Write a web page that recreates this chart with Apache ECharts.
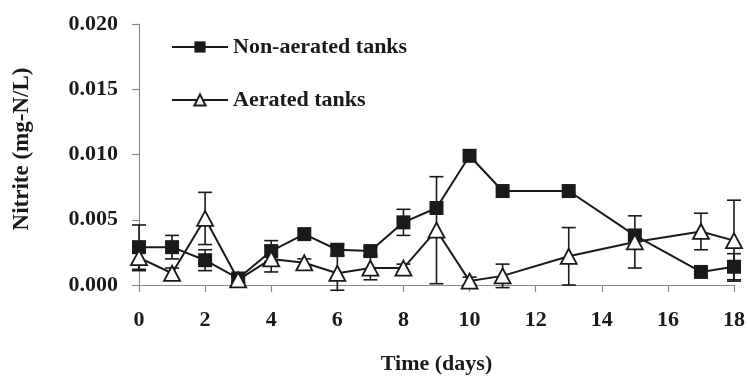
<!DOCTYPE html>
<html>
<head>
<meta charset="utf-8">
<script src="https://cdn.jsdelivr.net/npm/echarts@6/dist/echarts.min.js"></script>
<style>
  html, body { margin: 0; padding: 0; background: #ffffff; }
  #chart { width: 748px; height: 380px; }
</style>
</head>
<body>
<div id="chart"></div>
<script>
// Sampling days
const days = [0, 1, 2, 3, 4, 5, 6, 7, 8, 9, 10, 11, 13, 15, 17, 18];

// Nitrite (mg-N/L), mean and error (±)
const nonAerated    = [0.0029, 0.0029, 0.0019, 0.0005, 0.0026, 0.0039, 0.0027, 0.0026, 0.0048, 0.0059, 0.0099, 0.0072, 0.0072, 0.0038, 0.0010, 0.0014];
const nonAeratedErr = [0.0017, 0.0009, 0.0008, 0.0003, 0.0008, 0.0000, 0.0004, 0.0003, 0.0010, 0.0000, 0.0000, 0.0000, 0.0000, 0.0000, 0.0000, 0.0010];
const aerated       = [0.0021, 0.0009, 0.0051, 0.0004, 0.0020, 0.0017, 0.0009, 0.0013, 0.0013, 0.0042, 0.0003, 0.0007, 0.0022, 0.0033, 0.0041, 0.0034];
const aeratedErr    = [0.0010, 0.0004, 0.0020, 0.0002, 0.0010, 0.0003, 0.0013, 0.0009, 0.0003, 0.0041, 0.0003, 0.0009, 0.0022, 0.0020, 0.0014, 0.0031];

// Axis ticks
const xTicks = [0, 2, 4, 6, 8, 10, 12, 14, 16, 18];

const FONT = '"Liberation Serif", "Times New Roman", serif';
const INK = '#1a1a1a';
const AXIS = '#8a8a8a';
const FS = 22;

function pairs(xs, ys) { return xs.map((x, i) => [x, ys[i]]); }
function errRows(xs, ys, es) { return xs.map((x, i) => [x, ys[i] - es[i], ys[i] + es[i]]); }

// Vertical error bar with caps, placed through the axis scales
function errorBar(params, api) {
  const x = api.value(0);
  const lo = api.coord([x, api.value(1)]);
  const hi = api.coord([x, api.value(2)]);
  if (Math.abs(lo[1] - hi[1]) < 0.5) return null;
  const w = 7;
  const style = { stroke: INK, lineWidth: 1.6 };
  return {
    type: 'group',
    children: [
      { type: 'line', shape: { x1: lo[0], y1: lo[1], x2: hi[0], y2: hi[1] }, style },
      { type: 'line', shape: { x1: lo[0] - w, y1: lo[1], x2: lo[0] + w, y2: lo[1] }, style },
      { type: 'line', shape: { x1: hi[0] - w, y1: hi[1], x2: hi[0] + w, y2: hi[1] }, style }
    ]
  };
}

const chart = echarts.init(document.getElementById('chart'), null, { renderer: 'canvas' });

chart.setOption({
  animation: false,
  backgroundColor: '#ffffff',
  grid: { left: 139, right: 13, top: 24, bottom: 86, containLabel: false },
  legend: {
    data: ['Non-aerated tanks', 'Aerated tanks'],
    orient: 'vertical',
    left: 166,
    top: 31,
    itemWidth: 56,
    itemHeight: 14,
    itemGap: 31,
    textStyle: { fontFamily: FONT, fontWeight: 'bold', fontSize: FS, color: INK }
  },
  xAxis: {
    type: 'value',
    min: 0, max: 18, interval: 2,
    name: 'Time (days)',
    nameLocation: 'middle',
    nameGap: 68,
    nameTextStyle: { fontFamily: FONT, fontWeight: 'bold', fontSize: FS, color: INK },
    axisLine: { show: true, onZero: false, lineStyle: { color: AXIS, width: 1.2 } },
    axisTick: { show: true, inside: false, length: 7, lineStyle: { color: AXIS, width: 1.2 } },
    axisLabel: {
      margin: 24,
      fontFamily: FONT, fontWeight: 'bold', fontSize: FS, color: INK,
      customValues: xTicks
    },
    splitLine: { show: false }
  },
  yAxis: {
    type: 'value',
    min: 0, max: 0.02, interval: 0.005,
    axisLine: { show: true, lineStyle: { color: AXIS, width: 1.2 } },
    axisTick: { show: true, inside: false, length: 7, lineStyle: { color: AXIS, width: 1.2 } },
    axisLabel: {
      margin: 21,
      fontFamily: FONT, fontWeight: 'bold', fontSize: FS, color: INK,
      formatter: v => v.toFixed(3)
    },
    splitLine: { show: false }
  },
  graphic: [{
    type: 'text',
    x: 22, y: 149,
    rotation: Math.PI / 2,
    style: {
      text: 'Nitrite (mg-N/L)',
      fontFamily: FONT, fontWeight: 'bold', fontSize: 23, fill: INK,
      align: 'center', verticalAlign: 'middle'
    }
  }],
  series: [
    {
      name: 'nonAeratedErr',
      type: 'custom',
      renderItem: errorBar,
      data: errRows(days, nonAerated, nonAeratedErr),
      encode: { x: 0, y: [1, 2] },
      clip: false,
      z: 1
    },
    {
      name: 'aeratedErr',
      type: 'custom',
      renderItem: errorBar,
      data: errRows(days, aerated, aeratedErr),
      encode: { x: 0, y: [1, 2] },
      clip: false,
      z: 1
    },
    {
      name: 'Non-aerated tanks',
      type: 'line',
      data: pairs(days, nonAerated),
      symbol: 'rect',
      symbolSize: 14,
      lineStyle: { color: INK, width: 2 },
      itemStyle: { color: INK, borderColor: INK, borderWidth: 0 },
      z: 3
    },
    {
      name: 'Aerated tanks',
      type: 'line',
      data: pairs(days, aerated),
      symbol: 'triangle',
      symbolSize: [16, 15],
      lineStyle: { color: INK, width: 2 },
      itemStyle: { color: '#ffffff', borderColor: INK, borderWidth: 1.8 },
      z: 4
    }
  ]
});
</script>
</body>
</html>
